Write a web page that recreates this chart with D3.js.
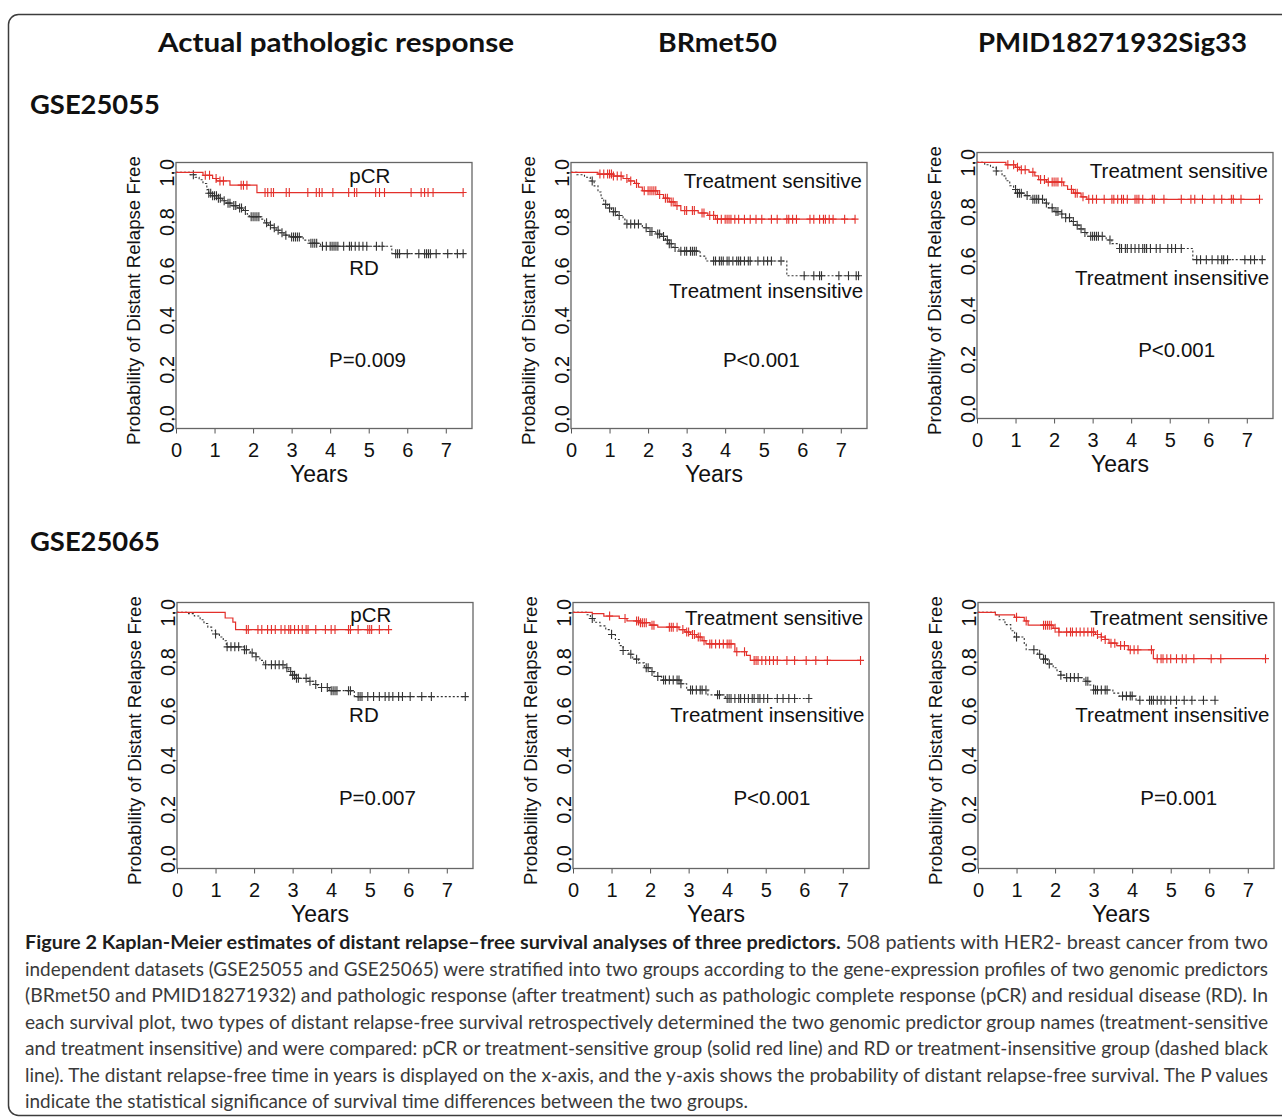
<!DOCTYPE html>
<html>
<head>
<meta charset="utf-8">
<script src="https://cdn.jsdelivr.net/npm/d3@7"></script>
<style>
  body { margin: 0; background: #fff; }
  svg { display: block; }
  .plot text { font-family: "Liberation Sans", Arial, Helvetica, sans-serif; fill: #111; }
  .head { font-family: Lato, "Open Sans", sans-serif; font-weight: 700; fill: #111; }
  .cap { font-family: Lato, "Open Sans", sans-serif; fill: #3a3a3a; }
</style>
</head>
<body>
<svg id="fig" width="1282" height="1120"></svg>
<script>
// ---- labels ----
const columnTitles = ["Actual pathologic response", "BRmet50", "PMID18271932Sig33"];
const datasetNames = ["GSE25055", "GSE25065"];
const groupLabels = [
    ["pCR", "RD"],
    ["Treatment sensitive", "Treatment insensitive"],
    ["Treatment sensitive", "Treatment insensitive"],
    ["pCR", "RD"],
    ["Treatment sensitive", "Treatment insensitive"],
    ["Treatment sensitive", "Treatment insensitive"]
];
const pValues = ["P=0.009", "P<0.001", "P<0.001", "P=0.007", "P<0.001", "P=0.001"];
const xTicks = [0, 1, 2, 3, 4, 5, 6, 7];
const yTicks = [0, 0.2, 0.4, 0.6, 0.8, 1.0];

// ---- survival steps [years, probability] and censor times ----
// panel 1: GSE25055, pathologic response
const red1Steps = [[0.7,0.988],[0.95,0.975],[1.05,0.965],[1.4,0.948],[2.1,0.918]];
const red1Censor = [0.76,0.87,1.04,1.14,1.23,1.69,1.75,1.84,2.31,2.38,2.47,2.53,2.86,2.94,3.42,3.64,3.72,3.79,4.07,4.48,4.63,4.69,5.18,5.28,5.41,6.10,6.36,6.45,6.54,6.67,7.45];
const black1Steps = [[0.35,0.99],[0.5,0.98],[0.6,0.97],[0.7,0.955],[0.8,0.93],[0.85,0.915],[0.95,0.905],[1.1,0.895],[1.2,0.885],[1.3,0.875],[1.45,0.865],[1.6,0.855],[1.75,0.845],[1.85,0.83],[1.9,0.82],[2.2,0.81],[2.3,0.795],[2.4,0.785],[2.5,0.775],[2.6,0.765],[2.7,0.755],[2.8,0.745],[2.95,0.738],[3.3,0.725],[3.45,0.712],[3.75,0.70],[5.6,0.67]];
const black1Censor = [0.45,0.85,0.9,0.95,1.0,1.05,1.1,1.15,1.25,1.35,1.4,1.5,1.55,1.65,1.7,1.8,1.95,2.0,2.05,2.1,2.15,2.35,2.45,2.55,2.65,2.75,2.85,3.0,3.05,3.1,3.15,3.2,3.5,3.55,3.6,3.65,3.8,3.9,4.0,4.05,4.1,4.15,4.2,4.35,4.5,4.55,4.65,4.75,4.85,4.95,5.2,5.35,5.7,5.75,5.8,6.0,6.3,6.45,6.5,6.55,6.6,6.75,7.05,7.3,7.45];

// panel 2: GSE25055, BRmet50
const red2Steps = [[0.7,0.993],[1.1,0.985],[1.35,0.975],[1.5,0.965],[1.65,0.955],[1.75,0.94],[1.85,0.925],[2.25,0.91],[2.4,0.895],[2.55,0.88],[2.7,0.865],[2.85,0.845],[3.3,0.835],[3.55,0.825],[3.75,0.81]];
const red2Censor = [0.75,0.85,0.95,1.0,1.05,1.1,1.2,1.3,1.45,1.55,1.7,1.9,2.0,2.05,2.1,2.15,2.2,2.3,2.45,2.5,2.6,2.65,2.75,2.95,3.0,3.15,3.2,3.4,3.45,3.6,3.7,3.8,3.9,4.0,4.05,4.1,4.15,4.25,4.35,4.5,4.65,4.8,4.95,5.2,5.35,5.6,5.65,5.75,5.85,6.2,6.3,6.45,6.55,6.6,6.7,6.8,7.1,7.37];
const black2Steps = [[0.15,0.99],[0.35,0.98],[0.5,0.965],[0.6,0.945],[0.7,0.92],[0.78,0.895],[0.85,0.87],[0.95,0.855],[1.05,0.84],[1.2,0.825],[1.35,0.81],[1.4,0.79],[1.85,0.775],[2.0,0.76],[2.2,0.75],[2.35,0.74],[2.45,0.725],[2.55,0.71],[2.65,0.695],[2.8,0.68],[3.35,0.66],[3.5,0.64],[5.6,0.58]];
const black2Censor = [0.55,0.9,1.0,1.1,1.15,1.25,1.45,1.55,1.65,1.75,1.95,2.05,2.1,2.25,2.3,2.4,2.5,2.55,2.6,2.7,2.85,2.95,3.0,3.1,3.15,3.2,3.25,3.7,3.75,3.85,3.9,3.95,4.05,4.1,4.2,4.3,4.35,4.4,4.5,4.6,4.65,4.85,5.0,5.1,5.2,5.45,6.05,6.3,6.45,6.5,6.95,7.2,7.4,7.46];

// panel 3: GSE25055, PMID18271932Sig33
const red3Steps = [[0.75,0.99],[1.0,0.98],[1.1,0.97],[1.35,0.96],[1.5,0.945],[1.6,0.93],[1.8,0.92],[2.25,0.905],[2.35,0.89],[2.5,0.875],[2.7,0.86],[2.85,0.85]];
const red3Censor = [0.8,0.95,1.05,1.15,1.25,1.45,1.65,1.75,1.85,1.95,2.0,2.05,2.1,2.2,2.45,2.55,2.6,2.75,2.9,3.0,3.1,3.3,3.5,3.55,3.65,3.75,3.8,3.9,4.1,4.15,4.2,4.3,4.55,4.6,4.85,5.3,5.55,5.65,5.85,6.15,6.35,6.6,6.65,6.85,7.33];
const black3Steps = [[0.2,0.99],[0.35,0.98],[0.5,0.965],[0.65,0.945],[0.75,0.925],[0.85,0.905],[0.95,0.89],[1.05,0.875],[1.25,0.865],[1.4,0.85],[1.75,0.835],[1.85,0.815],[2.0,0.8],[2.2,0.79],[2.3,0.775],[2.45,0.76],[2.55,0.745],[2.65,0.73],[2.75,0.715],[2.85,0.70],[3.35,0.685],[3.5,0.67],[3.7,0.65],[5.6,0.605]];
const black3Censor = [0.5,1.0,1.05,1.1,1.15,1.3,1.45,1.5,1.55,1.6,1.7,1.8,1.95,2.05,2.1,2.2,2.3,2.4,2.5,2.6,2.7,2.8,2.95,3.0,3.05,3.1,3.15,3.25,3.45,3.7,3.75,3.85,3.9,4.0,4.1,4.2,4.3,4.35,4.4,4.5,4.65,4.75,4.95,5.05,5.15,5.3,5.7,5.8,5.95,6.1,6.25,6.35,6.4,6.5,6.95,7.1,7.2,7.4];

// panel 4: GSE25065, pathologic response
const red4Steps = [[1.25,0.977],[1.45,0.96],[1.52,0.93]];
const red4Censor = [1.8,1.85,2.1,2.2,2.35,2.45,2.55,2.7,2.8,2.9,2.95,3.05,3.15,3.25,3.35,3.4,3.6,3.85,4.0,4.1,4.45,4.5,4.7,4.95,5.0,5.05,5.25,5.49];
const black4Steps = [[0.3,0.995],[0.45,0.985],[0.6,0.97],[0.7,0.955],[0.8,0.94],[0.9,0.925],[1.0,0.912],[1.1,0.9],[1.2,0.885],[1.28,0.86],[1.75,0.848],[1.9,0.835],[2.05,0.82],[2.15,0.805],[2.25,0.787],[2.8,0.775],[2.9,0.76],[3.0,0.745],[3.1,0.732],[3.4,0.72],[3.55,0.707],[3.65,0.695],[3.95,0.682],[4.6,0.658]];
const black4Censor = [1.0,1.3,1.4,1.5,1.6,1.75,1.8,1.95,2.05,2.3,2.45,2.55,2.65,2.75,2.85,2.95,3.0,3.05,3.1,3.15,3.35,3.45,3.6,3.75,3.9,4.0,4.05,4.1,4.15,4.45,4.5,4.7,4.75,4.8,4.95,5.1,5.25,5.4,5.5,5.6,5.75,5.85,6.05,6.35,6.6,7.48];

// panel 5: GSE25065, BRmet50
const red5Steps = [[0.5,0.995],[0.8,0.985],[1.2,0.975],[1.4,0.965],[1.75,0.958],[2.0,0.948],[2.2,0.94],[2.75,0.93],[2.9,0.92],[3.05,0.91],[3.2,0.9],[3.35,0.885],[3.45,0.872],[4.2,0.84],[4.5,0.825],[4.6,0.805]];
const red5Censor = [0.95,1.35,1.65,1.7,1.75,1.8,1.85,1.9,2.05,2.1,2.5,2.55,2.6,2.7,2.85,2.95,3.0,3.1,3.15,3.25,3.3,3.4,3.55,3.6,3.7,3.8,3.9,4.0,4.05,4.1,4.25,4.45,4.7,4.75,4.8,4.9,5.0,5.1,5.2,5.3,5.55,5.75,6.05,6.3,6.6,7.46];
const black5Steps = [[0.35,0.99],[0.45,0.975],[0.55,0.96],[0.7,0.945],[0.85,0.93],[1.0,0.91],[1.1,0.89],[1.2,0.865],[1.3,0.845],[1.45,0.83],[1.55,0.81],[1.7,0.795],[1.85,0.775],[2.0,0.76],[2.1,0.74],[2.3,0.725],[2.8,0.71],[2.95,0.685],[3.5,0.665],[3.95,0.65]];
const black5Censor = [0.5,1.0,1.3,1.5,1.65,1.9,1.95,2.05,2.2,2.35,2.4,2.5,2.6,2.7,2.75,2.8,3.05,3.1,3.2,3.3,3.35,3.45,3.75,3.8,4.0,4.05,4.1,4.2,4.3,4.35,4.45,4.55,4.65,4.7,4.8,4.85,4.95,5.05,5.3,5.45,5.6,5.75,6.12];

// panel 6: GSE25065, PMID18271932Sig33
const red6Steps = [[0.45,0.99],[0.95,0.98],[1.2,0.965],[1.3,0.948],[1.95,0.935],[2.1,0.92],[3.05,0.91],[3.2,0.9],[3.3,0.89],[3.4,0.875],[3.6,0.865],[3.9,0.848],[4.55,0.812]];
const red6Censor = [1.0,1.25,1.7,1.75,1.8,1.85,1.9,2.0,2.1,2.3,2.4,2.45,2.55,2.65,2.75,2.85,2.95,3.0,3.1,3.2,3.3,3.45,3.55,3.7,3.8,3.95,4.05,4.15,4.5,4.65,4.75,4.8,4.9,5.0,5.15,5.3,5.4,5.6,6.05,6.3,7.46];
const black6Steps = [[0.45,0.99],[0.55,0.97],[0.7,0.95],[0.85,0.925],[0.95,0.9],[1.2,0.87],[1.25,0.848],[1.55,0.83],[1.7,0.81],[1.8,0.79],[1.95,0.775],[2.05,0.76],[2.15,0.745],[2.25,0.735],[2.75,0.72],[2.9,0.705],[3.0,0.685],[3.5,0.672],[3.65,0.66],[4.1,0.643]];
const black6Censor = [1.0,1.45,1.6,1.7,1.75,1.85,2.15,2.3,2.4,2.5,2.6,2.8,2.85,3.0,3.05,3.1,3.2,3.3,3.35,3.75,3.85,3.95,4.0,4.2,4.45,4.5,4.55,4.65,4.75,4.85,5.0,5.15,5.35,5.55,5.85,6.15];

const captionLines = [
    "independent datasets (GSE25055 and GSE25065) were stratified into two groups according to the gene-expression profiles of two genomic predictors",
    "(BRmet50 and PMID18271932) and pathologic response (after treatment) such as pathologic complete response (pCR) and residual disease (RD). In",
    "each survival plot, two types of distant relapse-free survival retrospectively determined the two genomic predictor group names (treatment-sensitive",
    "and treatment insensitive) and were compared: pCR or treatment-sensitive group (solid red line) and RD or treatment-insensitive group (dashed black",
    "line). The distant relapse-free time in years is displayed on the x-axis, and the y-axis shows the probability of distant relapse-free survival. The P values",
    "indicate the statistical significance of survival time differences between the two groups."
];

// ---- layout ----
const boxW = 296, boxH = 266;
const redColor = "#e3302b", blackColor = "#333";
// box corner + where the annotations sit (in data units)
const panelLayout = [
    {left: 176, top: 162.5, grp: [[5.03, 0.956, "middle"], [4.88, 0.583, "middle"]], p: [4.97, 0.208]},
    {left: 571, top: 162.5, grp: [[7.55, 0.935, "end"], [7.58, 0.489, "end"]], p: [4.94, 0.21]},
    {left: 977, top: 152.5, grp: [[7.55, 0.935, "end"], [7.58, 0.502, "end"]], p: [5.18, 0.211]},
    {left: 177, top: 602.5, grp: [[5.03, 0.962, "middle"], [4.85, 0.556, "middle"]], p: [5.2, 0.218]},
    {left: 573, top: 602.5, grp: [[7.53, 0.949, "end"], [7.56, 0.556, "end"]], p: [5.16, 0.218]},
    {left: 978, top: 602.5, grp: [[7.53, 0.949, "end"], [7.56, 0.556, "end"]], p: [5.21, 0.218]}
];
const panelCurves = [
    [red1Steps, red1Censor, black1Steps, black1Censor],
    [red2Steps, red2Censor, black2Steps, black2Censor],
    [red3Steps, red3Censor, black3Steps, black3Censor],
    [red4Steps, red4Censor, black4Steps, black4Censor],
    [red5Steps, red5Censor, black5Steps, black5Censor],
    [red6Steps, red6Censor, black6Steps, black6Censor]
];

const svg = d3.select("#fig");
svg.append("rect").attr("width", 1282).attr("height", 1120).attr("fill", "#fff");

// outer rounded frame (right side runs off the page)
svg.append("rect")
    .attr("x", 8.5).attr("y", 14.5)
    .attr("width", 1300).attr("height", 1101)
    .attr("rx", 10)
    .attr("fill", "none")
    .attr("stroke", "#3c3c3c")
    .attr("stroke-width", 1.5);

// column titles
const titleBox = [[158, 356], [658, 119], [978, 269]];
columnTitles.forEach((t, i) => {
    svg.append("text").attr("class", "head")
        .attr("x", titleBox[i][0]).attr("y", 52)
        .attr("font-size", 27)
        .attr("textLength", titleBox[i][1])
        .attr("lengthAdjust", "spacingAndGlyphs")
        .text(t);
});
datasetNames.forEach((t, i) => {
    svg.append("text").attr("class", "head")
        .attr("x", 30).attr("y", i === 0 ? 114 : 551)
        .attr("font-size", 27)
        .attr("textLength", 130)
        .attr("lengthAdjust", "spacingAndGlyphs")
        .text(t);
});

function survivalAt(steps, t){
    let s = 1;
    steps.forEach(d => { if(d[0] <= t) s = d[1]; });
    return s;
}

function drawPanel(i){
    const L = panelLayout[i];
    const [rSteps, rCens, kSteps, kCens] = panelCurves[i];
    const g = svg.append("g").attr("class", "plot")
        .attr("transform", `translate(${L.left},${L.top})`);

    const x = d3.scaleLinear().domain([0, 7.68]).range([0, boxW]);
    const y = d3.scaleLinear().domain([-0.04, 1.04]).range([boxH, 0]);

    // axes
    const xa = g.append("g").attr("transform", `translate(0,${boxH})`)
        .call(d3.axisBottom(x).tickValues(xTicks).tickSize(5).tickSizeOuter(0).tickFormat(d3.format("d")));
    xa.select(".domain").remove();
    xa.selectAll("line").attr("stroke", "#555");
    xa.selectAll("text").attr("y", 28).attr("dy", 0)
        .attr("font-size", 20).attr("font-family", "Liberation Sans, Arial, sans-serif").attr("fill", "#111");

    const ya = g.append("g")
        .call(d3.axisLeft(y).tickValues(yTicks).tickSize(4).tickSizeOuter(0).tickFormat(d3.format(".1f")));
    ya.select(".domain").remove();
    ya.selectAll("line").attr("stroke", "#555");
    ya.selectAll("text")
        .attr("transform", "rotate(-90)")
        .attr("x", 0).attr("y", -2.5).attr("dy", 0)
        .attr("text-anchor", "middle")
        .attr("font-size", 20).attr("font-family", "Liberation Sans, Arial, sans-serif").attr("fill", "#111");

    g.append("rect").attr("width", boxW).attr("height", boxH)
        .attr("fill", "none").attr("stroke", "#666").attr("stroke-width", 1.3);

    // titles
    g.append("text")
        .attr("transform", `translate(-36,${boxH / 2 + 5}) rotate(-90)`)
        .attr("text-anchor", "middle").attr("font-size", 18.7)
        .text("Probability of Distant Relapse Free");
    g.append("text")
        .attr("x", boxW / 2 - 5).attr("y", boxH + 53)
        .attr("text-anchor", "middle").attr("font-size", 23)
        .text("Years");

    // curves
    const line = d3.line().x(d => x(d[0])).y(d => y(d[1])).curve(d3.curveStepAfter);
    const curves = [
        {steps: kSteps, cens: kCens, color: blackColor, dash: "2,2", width: 1.1},
        {steps: rSteps, cens: rCens, color: redColor, dash: null, width: 1.2}
    ];
    curves.forEach(c => {
        const end = Math.max(d3.max(c.steps, d => d[0]), d3.max(c.cens));
        const pts = [[0, 1]].concat(c.steps);
        pts.push([end, c.steps[c.steps.length - 1][1]]);
        g.append("path").datum(pts)
            .attr("d", line)
            .attr("fill", "none")
            .attr("stroke", c.color)
            .attr("stroke-width", c.width)
            .attr("stroke-dasharray", c.dash);
        g.append("g").selectAll("path")
            .data(c.cens)
            .join("path")
            .attr("d", t => {
                const px = x(t), py = y(survivalAt(c.steps, t));
                return `M${px - 3.5},${py}h7M${px},${py - 4.5}v9`;
            })
            .attr("stroke", c.color)
            .attr("stroke-width", 1.1)
            .attr("fill", "none");
    });

    // annotations
    L.grp.forEach((a, j) => {
        g.append("text")
            .attr("x", x(a[0])).attr("y", y(a[1]))
            .attr("text-anchor", a[2]).attr("font-size", 20.5)
            .text(groupLabels[i][j]);
    });
    g.append("text")
        .attr("x", x(L.p[0])).attr("y", y(L.p[1]))
        .attr("text-anchor", "middle").attr("font-size", 20.5)
        .text(pValues[i]);
}

d3.range(6).forEach(drawPanel);

// caption
const capLeft = 25, capWidth = 1243, capTop = 949, capStep = 26.5;
const first = svg.append("text").attr("class", "cap")
    .attr("x", capLeft).attr("y", capTop)
    .attr("font-size", 19)
    .attr("textLength", capWidth)
    .attr("lengthAdjust", "spacingAndGlyphs");
first.append("tspan").attr("font-weight", 700).attr("fill", "#1e1e1e")
    .text("Figure 2 Kaplan-Meier estimates of distant relapse\u2013free survival analyses of three predictors.");
first.append("tspan").text(" 508 patients with HER2- breast cancer from two");

captionLines.forEach((t, i) => {
    const last = i === captionLines.length - 1;
    svg.append("text").attr("class", "cap")
        .attr("x", capLeft).attr("y", capTop + capStep * (i + 1))
        .attr("font-size", 19)
        .attr("textLength", last ? 723 : capWidth)
        .attr("lengthAdjust", "spacingAndGlyphs")
        .text(t);
});
</script>
</body>
</html>
